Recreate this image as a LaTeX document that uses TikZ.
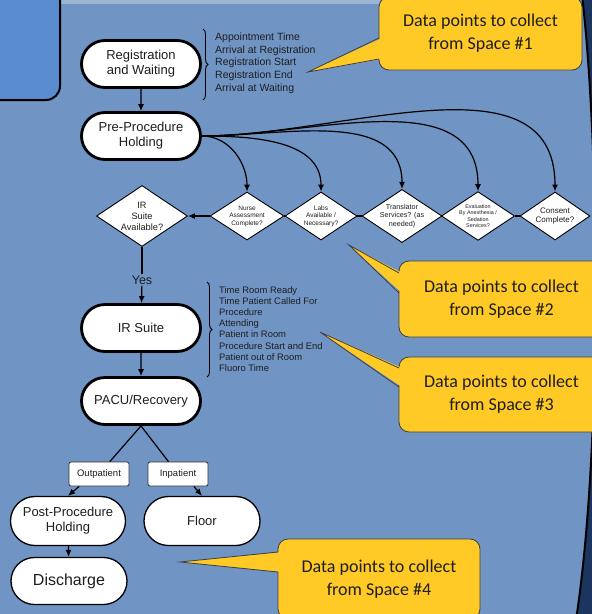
\documentclass[tikz,border=0pt]{standalone}
\usepackage{fontspec}
\setmainfont{Liberation Sans}
\newfontfamily\calfont{Carlito}
\usetikzlibrary{shapes.geometric,shapes.misc,arrows.meta,decorations.pathreplacing}
\definecolor{slide}{HTML}{7094C3}
\definecolor{navy}{HTML}{1B355F}
\definecolor{titlebox}{HTML}{598BCF}
\definecolor{notefill}{HTML}{FFC926}
\definecolor{ink}{HTML}{1E1E1E}
\begin{document}
\begin{tikzpicture}[x=1pt,y=-1pt]
  \tikzstyle{pill}=[rounded rectangle,draw=black,line width=2.8pt,fill=white,align=center,text=ink,minimum width=123pt,minimum height=47pt,inner sep=2pt,font=\fontsize{13}{15}\selectfont]
  \tikzstyle{thinpill}=[pill,line width=1.3pt,minimum width=120pt,minimum height=49pt]
  \tikzstyle{check}=[diamond,draw=black,line width=0.9pt,fill=white,align=center,text=ink,inner sep=0pt,shape aspect=1.5,font=\fontsize{6.5}{7.5}\selectfont]
  \tikzstyle{tag}=[rectangle,rounded corners=2pt,draw=black!80,line width=0.8pt,fill=white,text=ink,minimum width=60pt,minimum height=24pt,inner sep=1pt,font=\fontsize{9.5}{11}\selectfont]
  \tikzstyle{note}=[rectangle,rounded corners=10pt,draw=black!75,line width=0.8pt,fill=notefill,align=center,text=ink,font=\calfont\fontsize{18}{23}\selectfont]
  \tikzstyle{points}=[align=left,anchor=west,text=ink,inner sep=0pt]
  \tikzstyle{flow}=[draw,line width=1.2pt,-{Latex[length=7pt,width=6pt]}]
  \tikzstyle{link}=[draw,line width=1.2pt]
  \tikzstyle{curly}=[draw,line width=0.9pt,decorate,decoration={brace,amplitude=5pt}]
  \useasboundingbox (0,0) rectangle (592,614);
  \clip (0,0) rectangle (592,614);
  % slide background
  \fill[navy] (0,0) rectangle (592,614);
  \fill[slide] (-5,-5) -- (582,-5) .. controls (600,150) and (602,450) .. (576,620) -- (-5,620) -- cycle;
  \draw[black,line width=2pt] (582,-5) .. controls (600,150) and (602,450) .. (576,620);
  \fill[slide!55!white,opacity=0.7] (60,0) rectangle (380,3.5);
  \filldraw[fill=titlebox,draw=black,line width=2pt,rounded corners=14pt] (-20,-20) rectangle (60,100);
  % main flow
  \node[pill] (RW) at (141,64) {Registration\\and Waiting};
  \node[pill] (PH) at (141,136) {Pre-Procedure\\Holding};
  \node[check,minimum width=91pt,minimum height=61pt,font=\fontsize{9.2}{11}\selectfont] (IRA) at (142,216) {IR\\Suite\\Available?};
  \node[check,minimum width=74pt,minimum height=48pt] (NA) at (247,216) {Nurse\\Assessment\\Complete?};
  \node[check,minimum width=72pt,minimum height=48pt] (LA) at (321,216) {Labs\\Available /\\Necessary?};
  \node[check,minimum width=75pt,minimum height=48pt,font=\fontsize{7.2}{8.5}\selectfont] (TS) at (402,216) {Translator\\Services? (as\\needed)};
  \node[check,minimum width=70pt,minimum height=48pt,font=\fontsize{5.4}{6.6}\selectfont] (EA) at (478,216) {Evaluation\\By Anesthesia /\\Sedation\\Services?};
  \node[check,minimum width=70pt,minimum height=48pt,font=\fontsize{8}{9.5}\selectfont] (CC) at (555,216) {Consent\\Complete?};
  \node[fill=slide,inner sep=1pt,text=ink,font=\fontsize{12.5}{14}\selectfont] (YES) at (142,280) {Yes};
  \node[pill] (IRS) at (141,328) {IR Suite};
  \node[pill] (PR) at (141,401) {PACU/Recovery};
  \node[tag] (OP) at (99,474) {Outpatient};
  \node[tag] (IP) at (178,474) {Inpatient};
  \node[thinpill,minimum width=119pt] (PPH) at (68,521) {Post-Procedure\\Holding};
  \node[thinpill] (FL) at (202,521) {Floor};
  \node[thinpill,minimum height=47pt,font=\fontsize{16}{18}\selectfont] (DC) at (69,581) {Discharge};
  % connectors
  \draw[flow] (RW) -- (PH);
  \foreach \d in {NA,LA,TS,EA,CC}
    \draw[flow] (PH.east) to[out=0,in=90] (\d.north);
  \draw[flow] (NA) -- (IRA);
  \draw[link] (NA) -- (LA);
  \draw[link] (LA) -- (TS);
  \draw[link] (TS) -- (EA);
  \draw[link] (EA) -- (CC);
  \draw[link] (IRA) -- (YES);
  \draw[flow] (YES) -- (IRS);
  \draw[flow] (IRS) -- (PR);
  \draw[link] (PR.south) -- (OP);
  \draw[link] (PR.south) -- (IP);
  \draw[flow] (OP.212) -- (PPH.north);
  \draw[flow] (IP.-38) -- (FL.north);
  \draw[flow] (PPH) -- (DC);
  % data point lists
  \draw[curly] (203,29) -- (203,100);
  \node[points,font=\fontsize{10.5}{12.7}\selectfont] (L1) at (215,63) {Appointment Time\\Arrival at Registration\\Registration Start\\Registration End\\Arrival at Waiting};
  \draw[curly] (207,282) -- (207,377);
  \node[points,font=\fontsize{9.4}{11.1}\selectfont] (L2) at (219,329) {Time Room Ready\\Time Patient Called For\\Procedure\\Attending\\Patient in Room\\Procedure Start and End\\Patient out of Room\\Fluoro Time};
  % callouts
  \node[note,minimum width=203pt,minimum height=73pt] (S1) at (480.5,33.5) {Data points to collect\\from Space \#1};
  \node[note,minimum width=205pt,minimum height=76pt] (S2) at (501.5,299) {Data points to collect\\from Space \#2};
  \node[note,minimum width=205pt,minimum height=75pt] (S3) at (501.5,394.5) {Data points to collect\\from Space \#3};
  \node[note,minimum width=202pt,minimum height=80pt] (S4) at (379,579) {Data points to collect\\from Space \#4};
  \coordinate (T1) at (308,72);
  \coordinate (T1a) at (379,38);
  \coordinate (T1b) at (379,59);
  \coordinate (T2) at (349,245);
  \coordinate (T2a) at (399,273);
  \coordinate (T2b) at (399,293);
  \coordinate (T3) at (320,332);
  \coordinate (T3a) at (399,368);
  \coordinate (T3b) at (399,387);
  \coordinate (T4) at (180,562);
  \coordinate (T4a) at (278,552);
  \coordinate (T4b) at (278,572);
  \foreach \t in {1,2,3,4} {
    \fill[notefill] (T\t) -- ([xshift=3pt]T\t a) -- ([xshift=3pt]T\t b) -- cycle;
    \draw[black!75,line width=0.8pt] (T\t a) -- (T\t) -- (T\t b);
  }
\end{tikzpicture}
\end{document}
